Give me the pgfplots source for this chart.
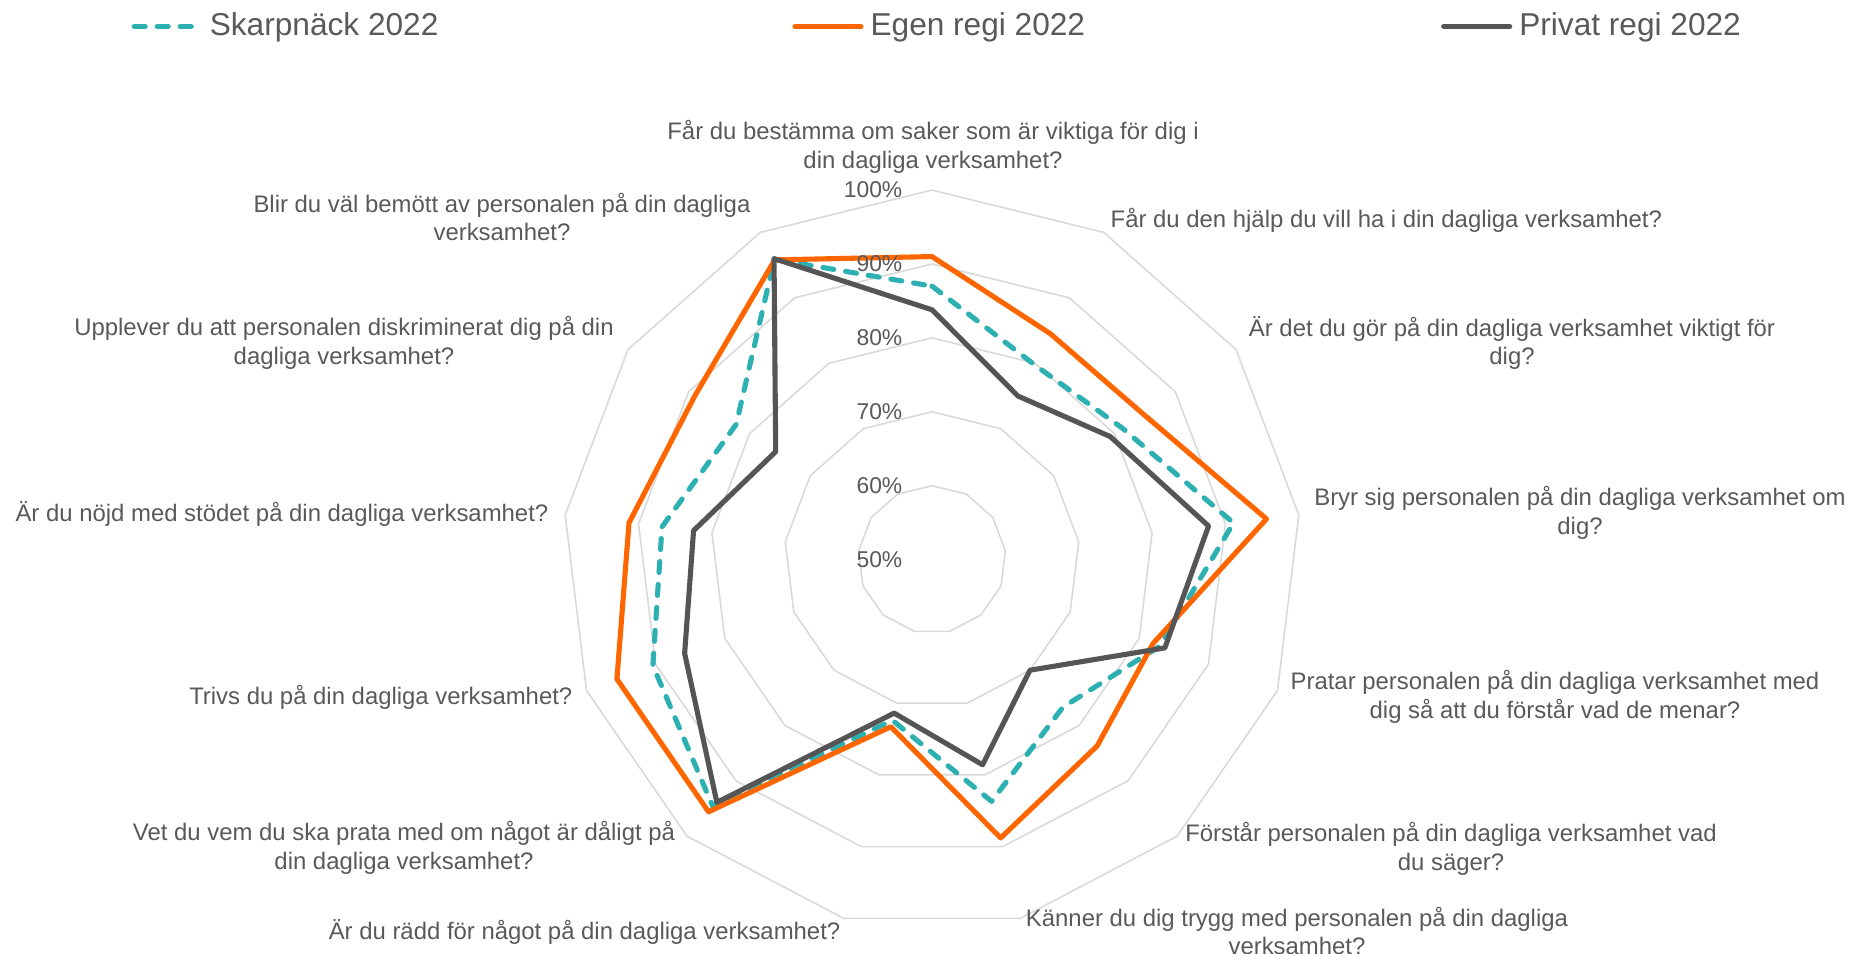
\documentclass[border=0pt]{standalone}
\usepackage{fontspec}
\setmainfont{Liberation Sans}
\usepackage{pgfplots}
\usepackage{pgfplotstable}
\pgfplotsset{compat=1.18}

\definecolor{cSkarp}{HTML}{2CB0B2}
\definecolor{cEgen}{HTML}{FF6600}
\definecolor{cPriv}{HTML}{555555}
\definecolor{cText}{HTML}{595959}
\definecolor{cGrid}{HTML}{D9D9D9}

\tikzset{lab/.style={font=\fontsize{6.8}{8.2}\selectfont, text=cText, align=center, inner sep=0pt},
  tick/.style={font=\fontsize{6.5}{8}\selectfont, text=cText, inner sep=0pt}}

% values in percent, category k = 0..12 clockwise from top; row 13 closes the loop
\pgfplotstableread{
k  egen  skarp  privat
0  91.0  87.0   83.8
1  84.5  79.8   75.0
2  84.7  81.3   79.3
3  95.6  91.1   87.7
4  82.0  83.0   83.7
5  83.7  76.7   70.0
6  88.8  83.7   78.6
7  73.3  72.4   71.4
8  95.6  94.7   93.9
9  95.6  90.4   85.8
10 91.3  86.8   82.5
11 89.0  82.2   75.7
12 95.8  95.9   96.0
13 91.0  87.0   83.8
}\radar

\def\cx{932}
\def\cy{394.4}
\def\sc{7.39}

\begin{document}
\begin{tikzpicture}
\begin{axis}[
  scale only axis, width=18.52cm, height=9.54cm,
  xmin=0, xmax=1852, ymin=0, ymax=954,
  hide axis, clip=false,
  legend columns=3,
  legend style={at={(axis cs:131,927.5)}, anchor=west, draw=none, fill=none,
    inner sep=0pt, font=\fontsize{9}{11}\selectfont, text=cText,
    /tikz/column 2/.style={column sep=3.47cm},
    /tikz/column 4/.style={column sep=3.49cm}},
  legend image code/.code={\draw[#1] (0cm,0cm) -- (0.66cm,0cm);},
]
\pgfplotsinvokeforeach{60,70,80,90,100}{
  \addplot[cGrid, line width=0.45pt, forget plot] table[
    x expr={\cx+\sc*(#1-50)*cos(90-\thisrow{k}*360/13)},
    y expr={\cy+\sc*(#1-50)*sin(90-\thisrow{k}*360/13)}] {\radar};
}
\addplot[cSkarp, line width=1.45pt, line cap=round, line join=round,
  dash pattern=on 0.11cm off 0.12cm] table[
  x expr={\cx+\sc*(\thisrow{skarp}-50)*cos(90-\thisrow{k}*360/13)},
  y expr={\cy+\sc*(\thisrow{skarp}-50)*sin(90-\thisrow{k}*360/13)}] {\radar};
\addlegendentry{Skarpnäck 2022}
\addplot[cEgen, line width=1.45pt, line cap=round, line join=round] table[
  x expr={\cx+\sc*(\thisrow{egen}-50)*cos(90-\thisrow{k}*360/13)},
  y expr={\cy+\sc*(\thisrow{egen}-50)*sin(90-\thisrow{k}*360/13)}] {\radar};
\addlegendentry{Egen regi 2022}
\addplot[cPriv, line width=1.45pt, line cap=round, line join=round] table[
  x expr={\cx+\sc*(\thisrow{privat}-50)*cos(90-\thisrow{k}*360/13)},
  y expr={\cy+\sc*(\thisrow{privat}-50)*sin(90-\thisrow{k}*360/13)}] {\radar};
\addlegendentry{Privat regi 2022}

\pgfplotsinvokeforeach{50,60,70,80,90,100}{
  \node[tick, anchor=east] at (axis cs:903,{\cy+\sc*(#1-50)}) {#1\%};
}

\node[lab] at (axis cs:933,807) {Får du bestämma om saker som är viktiga för dig i\\din dagliga verksamhet?};
\node[lab, anchor=west] at (axis cs:1110,733.5) {Får du den hjälp du vill ha i din dagliga verksamhet?};
\node[lab] at (axis cs:1512,611) {Är det du gör på din dagliga verksamhet viktigt för\\dig?};
\node[lab] at (axis cs:1580,441) {Bryr sig personalen på din dagliga verksamhet om\\dig?};
\node[lab] at (axis cs:1555,257) {Pratar personalen på din dagliga verksamhet med\\dig så att du förstår vad de menar?};
\node[lab] at (axis cs:1451,105.5) {Förstår personalen på din dagliga verksamhet vad\\du säger?};
\node[lab] at (axis cs:1297,23) {Känner du dig trygg med personalen på din dagliga\\verksamhet?};
\node[lab, anchor=east] at (axis cs:841,22) {Är du rädd för något på din dagliga verksamhet?};
\node[lab] at (axis cs:404,106) {Vet du vem du ska prata med om något är dåligt på\\din dagliga verksamhet?};
\node[lab, anchor=east] at (axis cs:573,257) {Trivs du på din dagliga verksamhet?};
\node[lab, anchor=east] at (axis cs:549,440) {Är du nöjd med stödet på din dagliga verksamhet?};
\node[lab] at (axis cs:344,611.5) {Upplever du att personalen diskriminerat dig på din\\dagliga verksamhet?};
\node[lab] at (axis cs:502,737) {Blir du väl bemött av personalen på din dagliga\\verksamhet?};
\end{axis}
\pgfresetboundingbox
\path[use as bounding box] (0,0) rectangle (18.52cm,9.54cm);
\end{tikzpicture}
\end{document}
